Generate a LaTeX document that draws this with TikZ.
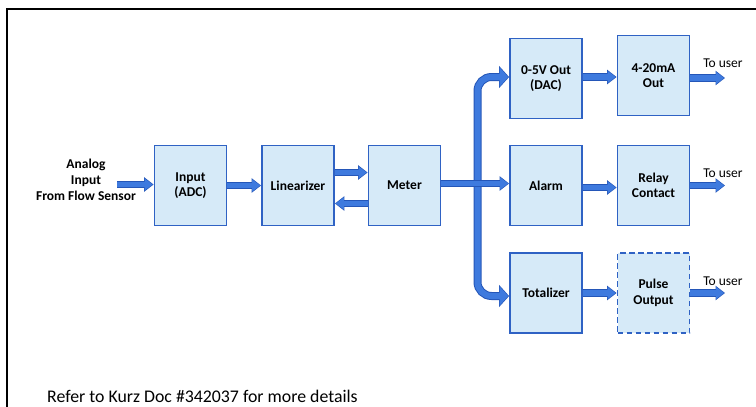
\documentclass[tikz,border=0pt]{standalone}
\usepackage{fontspec}
\setmainfont{Carlito}
\usetikzlibrary{arrows.meta}
\definecolor{boxfill}{RGB}{214,234,248}
\definecolor{boxline}{RGB}{47,98,196}
\definecolor{arrfill}{RGB}{62,122,222}
\definecolor{arrline}{RGB}{36,86,184}
\tikzset{
  blk/.style={draw=boxline, fill=boxfill, line width=1.8pt, minimum width=72pt, minimum height=80pt, inner sep=0pt, align=center, font=\fontsize{13.5}{15.5}\selectfont\bfseries},
  barrow/.style={line width=5.4pt, draw=arrfill, shorten >=0.9pt, -{Triangle[length=8pt,width=11.5pt]},
    preaction={draw=arrline, line width=7.2pt, shorten >=0pt, -{Triangle[length=9.5pt,width=14pt]}}},
  bentarrow/.style={line width=6pt, draw=arrfill, rounded corners=14pt, shorten >=0.9pt, -{Triangle[length=8.5pt,width=18.5pt]},
    preaction={draw=arrline, line width=8pt, rounded corners=14pt, shorten >=0pt, -{Triangle[length=10pt,width=21.5pt]}}},
  lbl/.style={inner sep=0pt, align=center, font=\fontsize{13.5}{16}\selectfont},
}
\begin{document}
\begin{tikzpicture}[x=1pt,y=-1pt]
\useasboundingbox (0,0) rectangle (756,407);
\fill[white] (0,0) rectangle (756,407);
\draw[line width=1.3pt] (756,9) -- (7,9) -- (7,407);

\node[blk] (in)  at (190.5,185.5) {Input\\(ADC)};
\node[blk] (lin) at (298,185.5) {Linearizer};
\node[blk] (met) at (404.5,185.5) {Meter};
\node[blk] (dac) at (546,78.5) {0-5V Out\\(DAC)};
\node[blk] (ma)  at (653.5,75.5) {4-20mA\\Out};
\node[blk] (alm) at (546,185.5) {Alarm};
\node[blk] (rel) at (653.5,185.5) {Relay\\Contact};
\node[blk] (tot) at (546,293) {Totalizer};
\node[blk, dashed, dash pattern=on 5.5pt off 3.5pt] (pul) at (653.5,293) {Pulse\\Output};

\node[lbl, font=\fontsize{13.5}{16}\selectfont\bfseries] (src) at (86,180) {Analog\\Input\\From Flow Sensor};
\coordinate (s0) at (117,184.5);
\coordinate (bus) at (477.5,184);
\coordinate (u1) at (725,78);
\coordinate (u2) at (725,185.5);
\coordinate (u3) at (725,293);

\draw[barrow] (s0) -- (s0 -| in.west);
\draw[barrow] (in.east) -- (lin.west);
\draw[barrow] ([yshift=13pt]lin.east) -- ([yshift=13pt]met.west);
\draw[barrow] ([yshift=-18pt]met.west) -- ([yshift=-18pt]lin.east);
\draw[bentarrow] (bus) |- ([yshift=1.5pt]dac.west);
\draw[bentarrow] (bus) |- ([yshift=-3pt]tot.west);
\draw[barrow] ([yshift=2pt]met.east) -- ([yshift=2pt]alm.west);
\draw[barrow] ([yshift=1.5pt]dac.east) -- ([yshift=1.5pt]dac.east -| ma.west);
\draw[barrow] ([yshift=-2pt]alm.east) -- ([yshift=-2pt]alm.east -| rel.west);
\draw[barrow] (tot.east) -- (pul.west);
\draw[barrow] (u1 -| ma.east) -- (u1);
\draw[barrow] (u2 -| rel.east) -- (u2);
\draw[barrow] (u3 -| pul.east) -- (u3);

\node[lbl] (t1) at (723,63) {To user};
\node[lbl] (t2) at (723,173) {To user};
\node[lbl] (t3) at (723,281) {To user};

\node[lbl, anchor=west, font=\fontsize{17.8}{20}\selectfont] (foot) at (47,396) {Refer to Kurz Doc \#342037 for more details};
\end{tikzpicture}
\end{document}
